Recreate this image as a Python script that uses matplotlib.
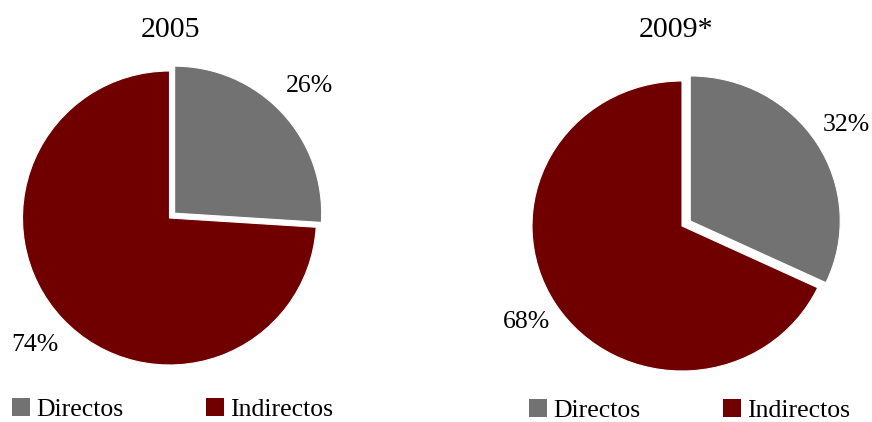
import matplotlib.pyplot as plt

# Tax revenue composition: direct vs. indirect taxes
categories = ['Directos', 'Indirectos']
years = ['2005', '2009*']
shares_2005 = [26, 74]
shares_2009 = [32, 68]

colors = ['#727272', '#700000']

W, H = 872, 422
plt.rcParams['font.family'] = ['Liberation Serif', 'DejaVu Serif']
fig = plt.figure(figsize=(W / 100, H / 100), dpi=100)


def pie_axes(cx, cy, rx, ry):
    """Axes whose unit circle spans rx by ry pixels around (cx, cy) (pixels from top-left)."""
    return fig.add_axes([(cx - rx) / W, (H - cy - ry) / H, 2 * rx / W, 2 * ry / H])


def draw_pie(ax, values, explode, pctdist):
    wedges, _, autotexts = ax.pie(
        values, colors=colors, startangle=90, counterclock=False,
        explode=[explode, 0], autopct=lambda p: f'{p:.0f}%',
        pctdistance=pctdist, radius=1,
        wedgeprops=dict(edgecolor='white', linewidth=0.8),
        textprops=dict(fontsize=18.5, color='black'))
    ax.set_aspect('auto')
    ax.set_xlim(-1, 1)
    ax.set_ylim(-1, 1)
    ax.axis('off')
    for w in wedges:
        w.set_clip_on(False)
    for t in autotexts:
        t.set_clip_on(False)
    return wedges


ax1 = pie_axes(169.5, 218, 147, 147)
w1 = draw_pie(ax1, shares_2005, 0.048, 1.26)

ax2 = pie_axes(682, 226, 150, 145)
w2 = draw_pie(ax2, shares_2009, 0.065, 1.23)

fig.text(170 / W, 1 - 37 / H, years[0], ha='center', va='baseline', fontsize=21.5)
fig.text(676 / W, 1 - 37 / H, years[1], ha='center', va='baseline', fontsize=21.5)

leg_kw = dict(loc='lower left', ncol=2, frameon=False, fontsize=18.5,
              handlelength=0.7, handleheight=0.7, handletextpad=0.25,
              columnspacing=3.2, borderpad=0, borderaxespad=0)
leg1 = fig.legend(w1, categories, bbox_to_anchor=(12 / W, 1 / H), **leg_kw)
leg2 = fig.legend(w2, categories, bbox_to_anchor=(529 / W, 0), **leg_kw)
for leg in (leg1, leg2):
    for h in leg.legend_handles:
        h.set_edgecolor('none')

fig.savefig('out.png', dpi=100)
